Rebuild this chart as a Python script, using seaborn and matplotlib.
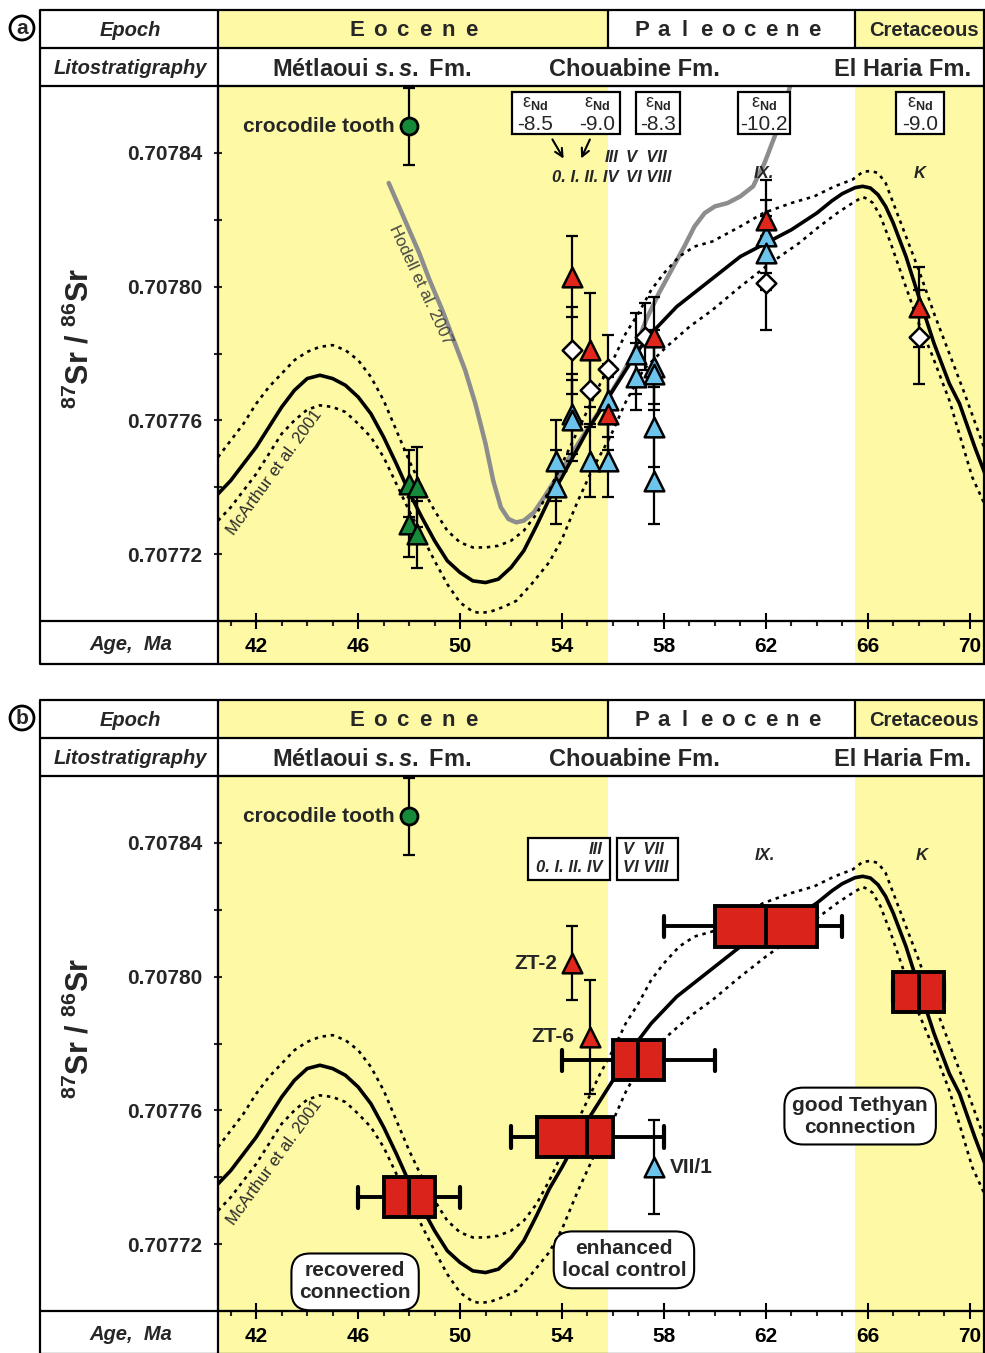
import numpy as np
import pandas as pd
import matplotlib
matplotlib.use('Agg')
import matplotlib.pyplot as plt
from matplotlib.patches import Rectangle
from matplotlib.ticker import MultipleLocator
import seaborn as sns

sns.set_theme(style='white')
plt.rcParams['font.family'] = ['Liberation Sans', 'DejaVu Sans']
plt.rcParams['mathtext.fontset'] = 'custom'
plt.rcParams['mathtext.rm'] = 'Liberation Sans:bold'
plt.rcParams['mathtext.bf'] = 'Liberation Sans:bold'
plt.rcParams['mathtext.it'] = 'Liberation Sans:bold:italic'

# ------------------------------------------------------------------ data
X_LIM = (40.5, 70.6)
Y_LIM = (0.70770, 0.70786)
eocene_span = (40.5, 55.8)
cretaceous_span = (65.5, 70.6)
age_major = [42, 46, 50, 54, 58, 62, 66, 70]
sr_major = [0.70772, 0.70776, 0.70780, 0.70784]
sr_minor = [0.70774, 0.70778, 0.70782]

# McArthur et al. 2001 curve and its envelope
mc_age = [40.5, 41.0, 41.5, 42.0, 42.5, 43.0, 43.5, 44.0, 44.5, 45.0, 45.5, 46.0,
          46.5, 47.0, 47.5, 48.0, 48.5, 49.0, 49.5, 50.0, 50.5, 51.0, 51.5, 52.0,
          52.5, 53.0, 53.5, 54.0, 54.5, 55.0, 55.5, 56.0, 56.5, 57.0, 57.5, 58.0,
          58.5, 59.0, 59.5, 60.0, 61.0, 62.0, 63.0, 64.0, 64.6, 65.0, 65.5, 65.8,
          66.1, 66.4, 66.7, 67.0, 67.5, 68.0, 68.6, 69.2, 69.6, 70.2, 70.7]
mc_sr = [0.707738, 0.707742, 0.707747, 0.707752, 0.707758, 0.707764, 0.707769,
         0.7077725, 0.7077735, 0.7077725, 0.7077705, 0.707767, 0.707762, 0.707755,
         0.707747, 0.7077385, 0.707731, 0.707724, 0.707718, 0.7077145, 0.707712,
         0.7077115, 0.7077125, 0.707716, 0.707721, 0.7077285, 0.7077365, 0.707743,
         0.70775, 0.707757, 0.707763, 0.707769, 0.707775, 0.707781, 0.707786,
         0.70779, 0.707794, 0.707797, 0.7078, 0.707803, 0.707809, 0.707813,
         0.707817, 0.707822, 0.7078257, 0.7078278, 0.7078296, 0.70783, 0.7078295,
         0.7078275, 0.707824, 0.707819, 0.707809, 0.707797, 0.707783, 0.707771,
         0.707765, 0.707752, 0.707742]
mc_up_age = [40.5, 41.0, 41.5, 42.0, 42.5, 43.0, 43.5, 44.0, 44.5, 45.0, 45.5, 46.0,
             46.5, 47.0, 47.5, 48.0, 48.5, 49.0, 49.5, 50.0, 50.5, 51.0, 51.5, 52.0,
             52.5, 53.0, 53.5, 54.0, 54.5, 55.0, 55.5, 56.0, 56.5, 57.0, 57.5, 58.0,
             58.6, 59.2, 59.9, 61.0, 61.9, 63.0, 63.9, 64.7, 65.4, 65.8, 66.1, 66.4,
             66.7, 67.0, 67.5, 68.0, 68.6, 69.2, 69.8, 70.7]
mc_up_sr = [0.707749, 0.707754, 0.707759, 0.707765, 0.70777, 0.707774, 0.707778,
            0.7077805, 0.707782, 0.7077825, 0.707781, 0.707778, 0.707773, 0.707766,
            0.707757, 0.707748, 0.70774, 0.707733, 0.707727, 0.7077235, 0.707722,
            0.707722, 0.7077225, 0.707724, 0.707727, 0.707732, 0.707739, 0.707747,
            0.707755, 0.707763, 0.707771, 0.707778, 0.707786, 0.707792, 0.707799,
            0.707804, 0.707809, 0.707812, 0.7078135, 0.707818, 0.707822, 0.707825,
            0.707827, 0.70783, 0.707832, 0.7078343, 0.7078346, 0.707834, 0.707831,
            0.707825, 0.707815, 0.707805, 0.707792, 0.70778, 0.707768, 0.707749]
mc_lo_age = [40.5, 41.0, 41.5, 42.0, 42.5, 43.0, 43.5, 44.0, 44.5, 45.0, 45.5, 46.0,
             46.5, 47.0, 47.5, 48.0, 48.5, 49.0, 49.5, 50.0, 50.5, 50.8, 51.2, 51.7,
             52.2, 52.8, 53.5, 54.0, 54.6, 55.2, 55.9, 56.5, 57.2, 58.1, 59.0, 59.9,
             61.0, 62.0, 62.55, 63.3, 64.1, 64.8, 65.4, 65.8, 66.0, 66.2, 66.5, 66.9,
             67.4, 68.0, 68.5, 69.2, 70.1, 70.7]
mc_lo_sr = [0.70773, 0.707734, 0.707739, 0.707744, 0.70775, 0.707756, 0.70776,
            0.7077632, 0.7077645, 0.707764, 0.7077625, 0.707759, 0.707755, 0.707749,
            0.707741, 0.707733, 0.7077255, 0.707718, 0.707711, 0.7077055, 0.7077028,
            0.7077024, 0.7077028, 0.7077042, 0.707706, 0.707711, 0.7077176,
            0.7077245, 0.7077355, 0.7077455, 0.7077552, 0.7077655, 0.7077752,
            0.707782, 0.707788, 0.707793, 0.7078, 0.707806, 0.707809, 0.707813,
            0.707818, 0.707822, 0.707825, 0.7078268, 0.7078262, 0.707825, 0.707821,
            0.707813, 0.707802, 0.707789, 0.70778, 0.707766, 0.707743, 0.707733]

# Hodell et al. 2007 curve
hodell_age = [47.2, 47.6, 48.0, 48.4, 48.8, 49.3, 49.8, 50.2, 50.6, 51.0, 51.3, 51.6,
              51.9, 52.2, 52.5, 52.9, 53.3, 53.8, 54.3, 54.8, 55.4, 55.9, 56.3, 56.8,
              57.3, 57.8, 58.3, 58.8, 59.2, 59.6, 60.0, 60.5, 61.0, 61.5, 61.95, 62.3,
              62.6, 62.95]
hodell_sr = [0.707831, 0.707824, 0.707817, 0.70781, 0.707802, 0.707793, 0.707783,
             0.707775, 0.707765, 0.707753, 0.707742, 0.707734, 0.7077305, 0.7077295,
             0.70773, 0.7077325, 0.707737, 0.707743, 0.707749, 0.707755, 0.707762,
             0.707768, 0.707773, 0.70778, 0.70779, 0.707798, 0.707805, 0.707812,
             0.707818, 0.707822, 0.707824, 0.707825, 0.707827, 0.70783, 0.707837,
             0.707844, 0.70785, 0.70786]

# panel a samples
blue_age = [53.75, 53.75, 54.4, 54.4, 55.1, 55.8, 55.8, 56.9, 56.9, 57.6, 57.6,
            57.6, 57.6, 62.0, 62.0]
blue_sr = [0.707748, 0.707740, 0.707762, 0.707760, 0.707748, 0.707766, 0.707748,
           0.707780, 0.707773, 0.707776, 0.707774, 0.707758, 0.707742, 0.707815,
           0.707810]
blue_err = [0.000012, 0.000011, 0.000012, 0.000012, 0.000011, 0.000011, 0.000011,
            0.000012, 0.000010, 0.000011, 0.000011, 0.000012, 0.000013, 0.000011,
            0.000011]
red_age = [54.4, 55.1, 55.8, 57.6, 62.0, 68.0]
red_sr = [0.707803, 0.707781, 0.707762, 0.707785, 0.707820, 0.707794]
red_err = [0.000012, 0.000017, 0.000011, 0.000012, 0.000012, 0.000012]
dia_age = [54.4, 55.1, 55.8, 57.25, 62.0, 68.0]
dia_sr = [0.707781, 0.707769, 0.7077755, 0.707785, 0.707801, 0.707785]
dia_err = [0.000013, 0.000011, 0.000010, 0.000010, 0.000014, 0.000014]
green_age = [48.0, 48.3, 48.0, 48.3]
green_sr = [0.707741, 0.707740, 0.707729, 0.707726]
green_err = [0.000010, 0.000012, 0.000010, 0.000010]
croc_age = [48.0]
croc_sr = [0.707848]
croc_err = [0.0000115]

nd_values = ['-8.5', '-9.0', '-8.3', '-10.2', '-9.0']

# panel b samples
b_red_age = [54.4, 55.1]
b_red_sr = [0.707804, 0.707782]
b_red_err = [0.000011, 0.000017]
b_red_lab = ['ZT-2', 'ZT-6']
b_blue_age = [57.6]
b_blue_sr = [0.707743]
b_blue_err = [0.000014]
b_blue_lab = ['VII/1']

# panel b age boxes (age statistics at a Sr level)
box_sr = [0.707734, 0.707752, 0.707775, 0.707815, 0.7077955]
box_lo = [46.0, 52.0, 54.0, 58.0, 67.0]
box_q1 = [47.0, 53.0, 56.0, 60.0, 67.0]
box_med = [48.0, 55.0, 57.0, 62.0, 68.0]
box_q3 = [49.0, 56.0, 58.0, 64.0, 69.0]
box_hi = [50.0, 58.0, 60.0, 65.0, 69.0]

# ------------------------------------------------------------------ style
YELLOW = '#fdf9a4'
BLUE = '#6cc4ec'
RED = '#e1261c'
GREEN = '#17893b'
BOXRED = '#d9231b'
GRAY = '#8d8d8d'

W, H = 985, 1353
fig = plt.figure(figsize=(W / 100, H / 100), dpi=100)
XL, XR = 218, 985


def rect(x0, y0, x1, y1):
    return [x0 / W, 1 - y1 / H, (x1 - x0) / W, (y1 - y0) / H]


def xpix(age):
    return XL + (age - X_LIM[0]) / (X_LIM[1] - X_LIM[0]) * (XR - XL)


def spans(a):
    a.set_xlim(*X_LIM)
    a.axvspan(*eocene_span, color=YELLOW, lw=0, zorder=0)
    a.axvspan(*cretaceous_span, color=YELLOW, lw=0, zorder=0)


def errs(ax, x, y, e):
    ax.errorbar(x, y, yerr=e, fmt='none', ecolor='black', elinewidth=1.6,
                capsize=4, capthick=1.6, zorder=4)


DOT = (0, (1.3, 1.8))


def build_panel(T, panel_a):
    ax_ep = fig.add_axes(rect(XL, T, XR, T + 38))
    spans(ax_ep); ax_ep.axis('off')
    ax_li = fig.add_axes(rect(XL, T + 38, XR, T + 76))
    ax_li.set_xlim(*X_LIM); ax_li.axis('off')
    ax_age = fig.add_axes(rect(XL, T + 611, XR, T + 654))
    spans(ax_age); ax_age.axis('off')
    ax = fig.add_axes(rect(XL, T + 76, XR, T + 611))
    spans(ax)
    ax.set_ylim(*Y_LIM)

    sns.lineplot(x=mc_age, y=mc_sr, ax=ax, color='black', lw=2.6,
                 estimator=None, sort=False, zorder=3)
    sns.lineplot(x=mc_up_age, y=mc_up_sr, ax=ax, color='black', lw=1.9,
                 linestyle=DOT, estimator=None, sort=False, zorder=3)
    sns.lineplot(x=mc_lo_age, y=mc_lo_sr, ax=ax, color='black', lw=1.9,
                 linestyle=DOT, estimator=None, sort=False, zorder=3)
    ax.text(42.7, 0.7077445, 'McArthur et al. 2001', rotation=54, fontsize=12,
            color='#2a2a2a', ha='center', va='center', rotation_mode='anchor')

    errs(ax, croc_age, croc_sr, croc_err)
    sns.scatterplot(x=croc_age, y=croc_sr, ax=ax, marker='o', s=150, color=GREEN,
                    edgecolor='black', linewidth=2, zorder=6)
    ax.text(47.45, 0.707848, 'crocodile tooth', fontsize=15, fontweight='bold',
            ha='right', va='center')

    if panel_a:
        sns.lineplot(x=hodell_age, y=hodell_sr, ax=ax, color=GRAY, lw=3.2,
                     estimator=None, sort=False, zorder=2.5)
        ax.text(48.45, 0.7078005, 'Hodell et al. 2007', rotation=-65, fontsize=12,
                color='#444444', ha='center', va='center', rotation_mode='anchor')
        errs(ax, green_age, green_sr, green_err)
        errs(ax, blue_age, blue_sr, blue_err)
        errs(ax, red_age, red_sr, red_err)
        errs(ax, dia_age, dia_sr, dia_err)
        sns.scatterplot(x=green_age, y=green_sr, ax=ax, marker='^', s=200,
                        color=GREEN, edgecolor='black', linewidth=1.8, zorder=6)
        sns.scatterplot(x=dia_age, y=dia_sr, ax=ax, marker='D', s=100,
                        color='white', edgecolor='black', linewidth=1.8, zorder=6)
        sns.scatterplot(x=blue_age, y=blue_sr, ax=ax, marker='^', s=200,
                        color=BLUE, edgecolor='black', linewidth=1.8, zorder=6)
        sns.scatterplot(x=red_age, y=red_sr, ax=ax, marker='^', s=200,
                        color=RED, edgecolor='black', linewidth=1.8, zorder=6)
    else:
        stats = [dict(med=m, q1=a, q3=b, whislo=lo, whishi=hi, fliers=[])
                 for lo, a, m, b, hi in zip(box_lo, box_q1, box_med, box_q3, box_hi)]
        kw = dict(positions=box_sr, widths=0.0000120, capwidths=0.0000064,
                  patch_artist=True, showfliers=False, manage_ticks=False,
                  boxprops=dict(facecolor=BOXRED, edgecolor='black', linewidth=2.8),
                  whiskerprops=dict(color='black', linewidth=2.8),
                  capprops=dict(color='black', linewidth=3.0),
                  medianprops=dict(color='black', linewidth=2.8), zorder=4)
        try:
            ax.bxp(stats, orientation='horizontal', **kw)
        except TypeError:
            ax.bxp(stats, vert=False, **kw)
        errs(ax, b_red_age, b_red_sr, b_red_err)
        errs(ax, b_blue_age, b_blue_sr, b_blue_err)
        sns.scatterplot(x=b_red_age, y=b_red_sr, ax=ax, marker='^', s=200,
                        color=RED, edgecolor='black', linewidth=1.8, zorder=6)
        sns.scatterplot(x=b_blue_age, y=b_blue_sr, ax=ax, marker='^', s=200,
                        color=BLUE, edgecolor='black', linewidth=1.8, zorder=6)
        for xa, ya, lab in zip(b_red_age, b_red_sr, b_red_lab):
            ax.text(xa - 0.6, ya, lab, fontsize=15, fontweight='bold',
                    ha='right', va='center')
        for xa, ya, lab in zip(b_blue_age, b_blue_sr, b_blue_lab):
            ax.text(xa + 0.65, ya, lab, fontsize=15, fontweight='bold',
                    ha='left', va='center')
        bb = dict(boxstyle='round,pad=0.38,rounding_size=0.9', fc='white',
                  ec='black', lw=1.5)
        ax.text(45.88, 0.7077087, 'recovered\nconnection', fontsize=15,
                fontweight='bold', ha='center', va='center', bbox=bb,
                linespacing=1.2, zorder=7)
        ax.text(56.43, 0.7077153, 'enhanced\nlocal control', fontsize=15,
                fontweight='bold', ha='center', va='center', bbox=bb,
                linespacing=1.2, zorder=7)
        ax.text(65.7, 0.7077583, 'good Tethyan\nconnection', fontsize=15,
                fontweight='bold', ha='center', va='center', bbox=bb,
                linespacing=1.2, zorder=7)

    ax.set_xlim(*X_LIM)
    ax.set_ylim(*Y_LIM)
    ax.set_xlabel('')
    ax.set_ylabel('')
    ax.set_xticks(age_major)
    ax.set_xticklabels([str(v) for v in age_major], fontsize=15, fontweight='bold')
    ax.xaxis.set_minor_locator(MultipleLocator(1))
    ax.set_yticks(sr_major)
    ax.set_yticklabels([f'{v:.5f}' for v in sr_major], fontsize=15, fontweight='bold')
    ax.set_yticks(sr_minor, minor=True)
    ax.tick_params(axis='x', which='major', direction='inout', length=11, width=1.5,
                   pad=6, bottom=True, colors='black')
    ax.tick_params(axis='x', which='minor', direction='out', length=3.5, width=1.5,
                   bottom=True)
    ax.tick_params(axis='y', which='both', direction='inout', length=6, width=1.5,
                   pad=8, left=True)
    for s in ax.spines.values():
        s.set_linewidth(1.5)
        s.set_color('black')
    return ax


build_panel(10, True)
build_panel(700, False)

# ------------------------------------------------------------------ overlay (table frame, texts)
ov = fig.add_axes([0, 0, 1, 1], zorder=20)
ov.set_xlim(0, W)
ov.set_ylim(H, 0)
ov.axis('off')
ov.patch.set_alpha(0)

LW = 1.6
for T, letter in [(10, 'a'), (700, 'b')]:
    for y in [T, T + 38, T + 76, T + 611, T + 654]:
        ov.plot([40, 985], [y, y], color='black', lw=LW, solid_capstyle='butt')
    for x in [40, XL, 984]:
        ov.plot([x, x], [T, T + 654], color='black', lw=LW)
    for a in [eocene_span[1], cretaceous_span[0]]:
        ov.plot([xpix(a), xpix(a)], [T, T + 38], color='black', lw=LW)
    ov.text(22, T + 18, letter, fontsize=15, fontweight='bold', ha='center',
            va='center', bbox=dict(boxstyle='circle,pad=0.12', fc='white',
                                   ec='black', lw=2))
    ov.text(130, T + 21, 'Epoch', fontsize=14.5, fontweight='bold', style='italic',
            ha='center', va='center')
    ov.text(130, T + 58, 'Litostratigraphy', fontsize=14.5, fontweight='bold',
            style='italic', ha='center', va='center')
    ov.text(131, T + 635, 'Age,  Ma', fontsize=14.5, fontweight='bold',
            style='italic', ha='center', va='center')
    for i, ch in enumerate('Eocene'):
        ov.text(357 + i * 22.8, T + 20, ch, fontsize=16, fontweight='bold',
                ha='center', va='center')
    for i, ch in enumerate('Paleocene'):
        ov.text(642 + i * 21.5, T + 20, ch, fontsize=16, fontweight='bold',
                ha='center', va='center')
    ov.text(924, T + 20, 'Cretaceous', fontsize=14.5, fontweight='bold',
            ha='center', va='center')
    ov.text(372, T + 59, r'Métlaoui $\mathit{s.s.}$ Fm.', fontsize=17,
            fontweight='bold', ha='center', va='center')
    ov.text(634, T + 59, 'Chouabine Fm.', fontsize=17, fontweight='bold',
            ha='center', va='center')
    ov.text(903, T + 59, 'El Haria Fm.', fontsize=17, fontweight='bold',
            ha='center', va='center')
    ov.text(80, T + 328, r'$^{87}$Sr / $^{86}$Sr', fontsize=22, fontweight='bold',
            rotation=90, ha='center', va='center')


def ndbox(x0, x1, y0, y1):
    ov.add_patch(Rectangle((x0, y0), x1 - x0, y1 - y0, fc='white', ec='black', lw=1.6,
                           zorder=2))


# panel a: eNd boxes and sample groups
ndbox(512, 620, 92, 134)
ndbox(636, 680, 92, 134)
ndbox(738, 790, 92, 134)
ndbox(896, 944, 92, 134)
for xc, val in zip([535, 597, 658, 764, 920], nd_values):
    ov.text(xc, 103, r'ε$_{\mathrm{Nd}}$', fontsize=13, ha='center', va='center',
            zorder=3)
    ov.text(xc, 124, val, fontsize=15, ha='center', va='center', zorder=3)
ov.annotate('', xy=(565, 161), xytext=(551, 137),
            arrowprops=dict(arrowstyle='->', lw=1.5, color='black',
                            mutation_scale=14))
ov.annotate('', xy=(580, 161), xytext=(591, 137),
            arrowprops=dict(arrowstyle='->', lw=1.5, color='black',
                            mutation_scale=14))


def samples(y1, y2, xr, xl):
    kw = dict(fontsize=12, fontweight='bold', style='italic', va='center', zorder=3)
    ov.text(xr, y1, 'III', ha='right', **kw)
    ov.text(xr, y2, '0. I. II. IV', ha='right', **kw)
    ov.text(xl, y1, 'V  VII', ha='left', **kw)
    ov.text(xl, y2, 'VI VIII', ha='left', **kw)


samples(157, 177, 619, 626)
ov.text(764, 173, 'IX.', fontsize=12, fontweight='bold', style='italic',
        ha='center', va='center')
ov.text(920, 173, 'K', fontsize=12, fontweight='bold', style='italic',
        ha='center', va='center')

# panel b: sample group boxes
ndbox(528, 610, 838, 880)
ndbox(617, 678, 838, 880)
samples(849, 868, 603, 623)
ov.text(765, 855, 'IX.', fontsize=12, fontweight='bold', style='italic',
        ha='center', va='center')
ov.text(922, 855, 'K', fontsize=12, fontweight='bold', style='italic',
        ha='center', va='center')

fig.savefig('out.png', dpi=100)
